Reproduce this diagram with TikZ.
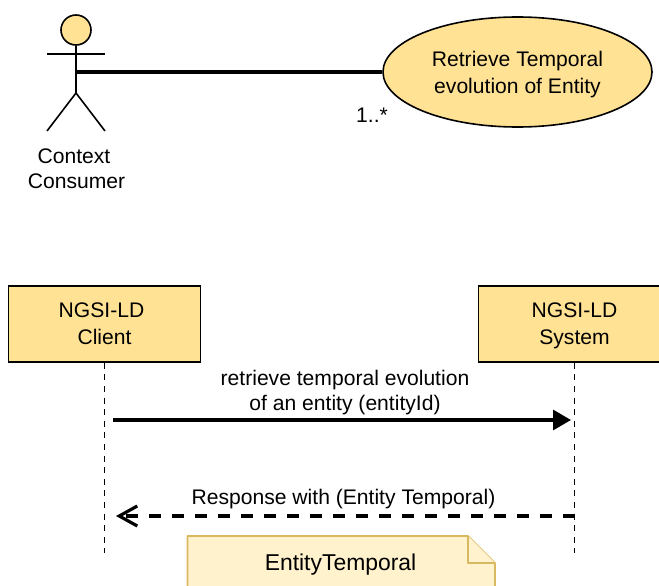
\documentclass[tikz,border=0pt]{standalone}
\usepackage{fontspec}
\setmainfont{Liberation Sans}
\usepackage{xcolor}
\usetikzlibrary{calc,arrows.meta,shapes.geometric}
\definecolor{yel}{HTML}{FFE294}
\definecolor{notebg}{HTML}{FFF2CC}
\definecolor{noteln}{HTML}{D9B95F}
\tikzset{
  base/.style={draw=black, line width=1.6pt},
  assoc/.style={draw=black, line width=3.2pt},
  life/.style={draw=black, line width=1.9pt, dash pattern=on 6pt off 5.6pt},
  call/.style={draw=black, line width=3.2pt, -{Triangle[length=18pt,width=20pt]}},
  resp/.style={draw=black, line width=3.2pt, dash pattern=on 12pt off 11pt, -{Straight Barb[length=18pt,width=20pt,line width=3.2pt]}},
  box/.style={base, fill=yel, minimum width=192pt, minimum height=76pt, inner sep=0pt, align=center, text depth=0pt, font=\fontsize{21.1}{27}\selectfont},
  usec/.style={base, fill=yel, ellipse, minimum width=269pt, minimum height=110pt, inner sep=0pt, align=center, text depth=-3pt, font=\fontsize{21.1}{27}\selectfont},
  notebox/.style={draw=noteln, fill=notebg, line width=1.6pt, line join=round},
  lab/.style={text=black, font=\fontsize{21.1}{25}\selectfont, inner sep=0pt, align=center},
  notelab/.style={lab, font=\fontsize{22.9}{25}\selectfont},
}
\begin{document}
\begin{tikzpicture}[x=1pt,y=-1pt]
  \useasboundingbox (0,0) rectangle (659,586);
  \clip (0,0) rectangle (659,586);

  % actor
  \node[base, fill=yel, circle, minimum size=30pt, inner sep=0pt] (head) at (76,30) {};
  \coordinate (hip) at (76,93);
  \coordinate (waist) at (76,72);
  \draw[base] (head.south) -- (hip);
  \draw[base] (47,54) -- (105,54);
  \draw[base] (47,131) -- (hip) -- (105,131);
  \node[lab] (consumer) at (76.5,168.5) {Context\hspace*{5pt}\\Consumer};

  % use case
  \node[usec] (retrieve) at (517.5,72) {Retrieve Temporal\\evolution of Entity};
  \draw[assoc] (waist) -- (retrieve.west);
  \node[lab] (mult) at (372,115) {1..*};

  % sequence
  \node[box] (client) at (104.5,324) {NGSI-LD\hspace*{6pt}\\Client};
  \node[box] (system) at (574.5,324) {NGSI-LD\\System};
  \coordinate (clientend) at (104.5,553);
  \coordinate (systemend) at (574.5,553);
  \draw[life] (client.south) -- (clientend);
  \draw[life] (system.south) -- (systemend);

  \coordinate (callstart) at (113,420);
  \coordinate (callend) at (571,420);
  \coordinate (respstart) at (574.5,516);
  \coordinate (respend) at (116,516);
  \draw[call] (callstart) -- (callend);
  \draw[resp] (respstart) -- (respend);
  \node[lab] (calllab) at (345,392.5) {retrieve temporal evolution\\of an entity (entityId)};
  \node[lab] (resplab) at (343.5,499.5) {Response with (Entity Temporal)};

  % note
  \draw[notebox] (187.5,536) -- (468,536) -- (495,563) -- (495,600) -- (187.5,600) -- cycle;
  \draw[notebox] (468,536) -- (468,563) -- (495,563);
  \node[notelab] (entity) at (340.5,564.5) {EntityTemporal};
\end{tikzpicture}
\end{document}
